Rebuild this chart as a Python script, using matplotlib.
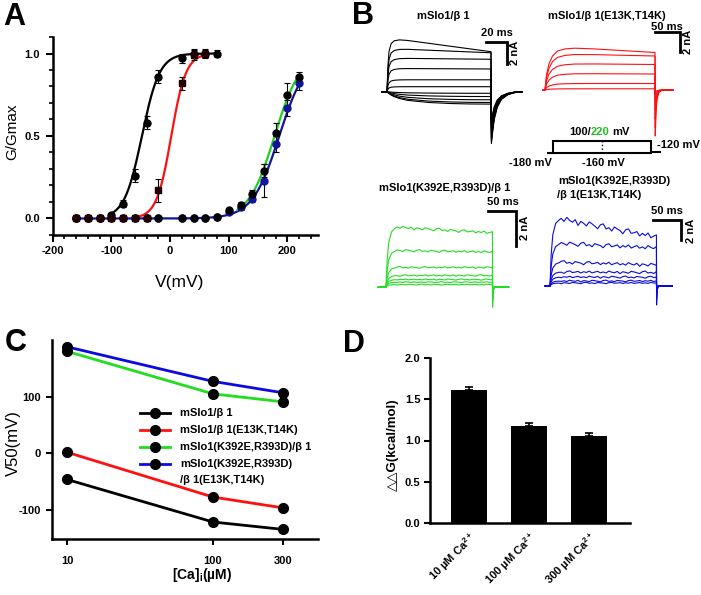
import numpy as np
import matplotlib.pyplot as plt
from matplotlib.ticker import MultipleLocator, FixedLocator, NullLocator

plt.rcParams['font.family'] = ['Liberation Sans', 'DejaVu Sans']
plt.rcParams['font.weight'] = 'bold'
plt.rcParams['axes.unicode_minus'] = False
plt.rcParams['mathtext.fontset'] = 'custom'
plt.rcParams['mathtext.rm'] = 'Liberation Sans'
plt.rcParams['mathtext.bf'] = 'Liberation Sans:bold'

RED = '#ff1010'
GREEN = '#22dd22'
BLUE = '#0a0ae0'
NAVY = '#14149a'

# ---------------- A: G-V curves ----------------
V_WT = [-160, -140, -120, -100, -80, -60, -40, -20, 20, 40, 60, 80]
G_WT = [0.0, 0.0, 0.0, 0.02, 0.09, 0.26, 0.58, 0.86, 0.97, 1.0, 1.0, 1.0]
E_WT = [0, 0, 0, 0.01, 0.02, 0.04, 0.04, 0.04, 0.03, 0.03, 0.03, 0.02]
V_B1M = [-160, -140, -120, -100, -80, -60, -40, -20, 20, 40, 60]
G_B1M = [0.0, 0.0, 0.0, 0.0, 0.0, 0.0, 0.005, 0.17, 0.82, 0.99, 1.0]
E_B1M = [0, 0, 0, 0, 0, 0, 0.005, 0.07, 0.04, 0.03, 0.02]
V_MUT = [-160, -140, -120, -100, -80, -60, -40, -20, 20, 40, 60, 80,
         100, 120, 140, 160, 180, 200, 220]
G_SLOM = [0, 0, 0, 0, 0, 0, 0, 0, 0, 0, 0, 0.01,
          0.05, 0.08, 0.15, 0.29, 0.52, 0.75, 0.86]
E_SLOM = [0, 0, 0, 0, 0, 0, 0, 0, 0, 0, 0, 0.01,
          0.01, 0.02, 0.02, 0.04, 0.06, 0.07, 0.03]
G_DM = [0, 0, 0, 0, 0, 0, 0, 0, 0, 0, 0, 0.01,
        0.04, 0.07, 0.12, 0.23, 0.45, 0.67, 0.82]
E_DM = [0, 0, 0, 0, 0, 0, 0, 0, 0, 0, 0, 0.01,
        0.01, 0.02, 0.02, 0.10, 0.05, 0.05, 0.04]

# Boltzmann fits: V50 (mV), slope (mV), drawn range
FIT_V50 = [-48, 2, 186, 178]
FIT_K = [15, 12.5, 23, 22]
FIT_RANGE = [(-100, 80), (-55, 60), (-160, 220), (115, 220)]
FIT_COLORS = ['black', RED, NAVY, '#20d020']

# ---------------- B: current traces ----------------
WIGGLE = [0.2, -0.5, 0.8, 0.1, -0.3, 0.6, -0.9, 0.4, 0.0, -0.6, 0.7, 0.3,
          -0.2, -0.8, 0.5, 0.9, -0.4, 0.1, -0.7, 0.6, 0.2, -0.1, -0.9, 0.4,
          0.8, -0.3, 0.0, 0.5, -0.6, 0.3, -0.2, 0.7, -0.5, 0.1, 0.6, -0.4]

# mSlo1/b1 (black), step 100 ms
BK_T = [0, 1, 2, 4, 7, 12, 20, 40, 60, 80, 100]
BK_FAST = [0, 0.5, 0.75, 0.9, 0.96, 0.99, 1, 1, 1, 1, 1]
BK_SLOW = [0, 0.08, 0.15, 0.27, 0.4, 0.55, 0.7, 0.87, 0.95, 0.99, 1]
BK_START = [5.0, 4.0, 3.1, 2.15, 1.1, 0.46]
BK_END = [3.7, 3.6, 3.0, 2.1, 1.1, 0.46]
BK_NEG = [-0.15, -0.45, -0.75, -1.0, -1.15]
BK_TAIL_POS = [-4.8, -4.6, -4.4, -4.2, -3.9, -3.6]
BK_TAIL_NEG = [-3.4, -3.2, -3.0, -2.8, -2.6]
BK_TAIL_T = [0.4, 1.5, 3, 6, 10, 16, 22, 30]
BK_TAIL_F = [1, 0.8, 0.55, 0.3, 0.15, 0.06, 0.02, 0]

# mSlo1/b1(E13K,T14K) (red), step 220 ms
RD_T = [0, 3, 8, 15, 25, 40, 60, 100, 150, 220]
RD_F = [0, 0.35, 0.6, 0.78, 0.9, 0.96, 0.99, 1, 1, 1]
RD_START = [4.4, 3.65, 2.65, 1.65, 0.65, 0.12]
RD_END = [3.75, 3.4, 2.55, 1.6, 0.65, 0.12]
RD_TAIL = [-4.6, -3.8, -2.9, -2.0, -1.0, -0.3]
RD_TAIL_T = [0.5, 2, 4, 8, 14, 36]
RD_TAIL_F = [1, 0.5, 0.2, 0.05, 0, 0]

# noisy families, step 190 ms
NZ_T = [0, 2, 5, 10, 16]
NZ_F = [0, 0.45, 0.75, 0.92, 0.98]
NZ_PLATEAU = list(range(20, 191, 5))
NZ_TAIL_T = [0.3, 1.5, 4, 28]
NZ_TAIL_F = [1, 0.2, 0, 0]
GR_START = [3.45, 2.1, 1.12, 0.66, 0.43, 0.28, 0.14]
GR_END = [3.1, 2.0, 1.12, 0.66, 0.43, 0.28, 0.14]
GR_NOISE = [0.1, 0.08, 0.06, 0.05, 0.04, 0.03, 0.03]
GR_TAIL = [-1.15, -0.8, -0.5, -0.3, -0.2, -0.1, -0.05]
BL_START = [6.9, 4.3, 2.4, 1.4, 0.9, 0.5, 0.3]
BL_END = [4.9, 3.8, 2.1, 1.35, 0.88, 0.5, 0.3]
BL_NOISE = [0.35, 0.25, 0.2, 0.15, 0.12, 0.1, 0.08]
BL_TAIL = [-1.9, -1.3, -0.8, -0.5, -0.3, -0.2, -0.1]

# ---------------- C: V50 vs Ca ----------------
CA = [10, 100, 300]
V50_WT = [-46, -121, -134]
V50_B1M = [2, -77, -96]
V50_SLOM = [180, 105, 91]
V50_DM = [188, 127, 107]
V50_ERR = [3, 3, 3]
C_NAMES = ['mSlo1/β 1', 'mSlo1/β 1(E13K,T14K)', 'mSlo1(K392E,R393D)/β 1',
           'mSlo1(K392E,R393D)\n/β 1(E13K,T14K)']
C_COLORS = ['black', RED, GREEN, BLUE]

# ---------------- D: ddG ----------------
D_LABELS = ['10 µM Ca$^{\\mathbf{2+}}$', '100 µM Ca$^{\\mathbf{2+}}$',
            '300 µM Ca$^{\\mathbf{2+}}$']
DDG = [1.61, 1.18, 1.06]
DDG_ERR = [0.035, 0.03, 0.03]

W, H = 701, 595
fig = plt.figure(figsize=(W / 100, H / 100), dpi=100)


def px_axes(x0, y0, x1, y1):
    return fig.add_axes([x0 / W, 1 - y1 / H, (x1 - x0) / W, (y1 - y0) / H])


def ftext(x, y, s, **kw):
    kw.setdefault('ha', 'center')
    kw.setdefault('va', 'center')
    return fig.text(x / W, 1 - y / H, s, **kw)


def style(ax, length=5):
    for s in ['top', 'right']:
        ax.spines[s].set_visible(False)
    for s in ['left', 'bottom']:
        ax.spines[s].set_linewidth(1.8)
    ax.tick_params(which='major', width=1.5, length=length, labelsize=8)
    ax.tick_params(which='minor', width=1.2, length=3)


# ---- A
axA = px_axes(52.7, 37, 318, 235)
style(axA)
axA.set_xlim(-200, 252)
axA.set_ylim(-0.1, 1.1)
axA.xaxis.set_major_locator(MultipleLocator(100))
axA.xaxis.set_minor_locator(MultipleLocator(20))
axA.yaxis.set_major_locator(FixedLocator([0, 0.5, 1.0]))
axA.yaxis.set_minor_locator(MultipleLocator(0.1))
axA.set_yticklabels(['0.0', '0.5', '1.0'])
axA.tick_params(axis='y', pad=4)
axA.tick_params(axis='x', pad=3)
for v50, k, (lo, hi), col in zip(FIT_V50, FIT_K, FIT_RANGE, FIT_COLORS):
    v = np.linspace(lo, hi, 200)
    axA.plot(v, 1 / (1 + np.exp(-(v - v50) / k)), color=col, lw=1.6, zorder=2)
for V, G, E, mk, col in [(V_MUT, G_DM, E_DM, 'o', NAVY),
                         (V_MUT, G_SLOM, E_SLOM, 'o', 'black'),
                         (V_WT, G_WT, E_WT, 'o', 'black'),
                         (V_B1M, G_B1M, E_B1M, 's', '#200000')]:
    axA.errorbar(V, G, yerr=E, fmt='none', ecolor='black', elinewidth=0.8,
                 capsize=2, capthick=0.8, zorder=3)
    axA.plot(V, G, mk, color=col, ms=5, zorder=4)
ftext(12, 132, 'G/Gmax', rotation=90, fontsize=11, fontweight='normal')
ftext(180, 283, 'V(mV)', fontsize=12.5, fontweight='normal')


# ---- B
def family(ax, kt, kf, starts, ends, tails, tail_t, tail_f, step, pre, post,
           color, noise=None, plateau=None):
    for j in range(len(starts)):
        a0, a1 = starts[j], ends[j]
        t = list(kt)
        y = [(a0 + (a1 - a0) * tk / step) * fk for tk, fk in zip(kt, kf)]
        if plateau is not None:
            for k, tk in enumerate(plateau):
                amp = a0 + (a1 - a0) * tk / step
                t.append(tk)
                y.append(amp + noise[j] * WIGGLE[(k + 7 * j) % len(WIGGLE)])
        t = [-pre] + t + [step + d for d in tail_t] + [step + post]
        y = [0] + y + [tails[j] * f for f in tail_f] + [0]
        ax.plot(t, y, color=color, lw=0.8)


def scalebar(ax, t0, t1, y0, y1, tx, ty, nx, ny):
    ax.plot([t0, t1, t1], [y0, y0, y1], color='black', lw=2,
            solid_joinstyle='miter', clip_on=False)
    ax.text(tx, ty, '%d ms' % (t1 - t0), ha='center', va='center', fontsize=8)
    ax.text(nx, ny, '2 nA', ha='left', va='center', fontsize=8, rotation=90)


axBk = px_axes(375, 30, 525, 150)
axBk.axis('off')
axBk.set_xlim(-11.5, 132.7)
axBk.set_ylim(-5.4, 5.71)
family(axBk, BK_T, BK_SLOW, BK_NEG, BK_NEG, BK_TAIL_NEG, BK_TAIL_T, BK_TAIL_F,
       100, 5, 30, 'black')
family(axBk, BK_T, BK_FAST, BK_START, BK_END, BK_TAIL_POS, BK_TAIL_T,
       BK_TAIL_F, 100, 5, 30, 'black')
scalebar(axBk, 95, 115, 4.6, 2.6, 105.8, 5.43, 118.5, 3.6)

axBr = px_axes(535, 25, 700, 140)
axBr.axis('off')
axBr.set_xlim(-20, 310)
axBr.set_ylim(-5.0, 6.5)
family(axBr, RD_T, RD_F, RD_START, RD_END, RD_TAIL, RD_TAIL_T, RD_TAIL_F,
       220, 4, 36, RED)
scalebar(axBr, 220, 270, 5.8, 3.8, 244, 6.3, 276, 4.8)

axBg = px_axes(370, 195, 535, 310)
axBg.axis('off')
axBg.set_xlim(-28.6, 266)
axBg.set_ylim(-1.31, 5.26)
family(axBg, NZ_T, NZ_F, GR_START, GR_END, GR_TAIL, NZ_TAIL_T, NZ_TAIL_F,
       190, 14, 29, GREEN, noise=GR_NOISE, plateau=NZ_PLATEAU)
scalebar(axBg, 182, 232, 4.34, 2.34, 209, 4.86, 240, 3.37)

axBb = px_axes(540, 200, 701, 310)
axBb.axis('off')
axBb.set_xlim(-17.9, 269.6)
axBb.set_ylim(-2.4, 8.6)
family(axBb, NZ_T, NZ_F, BL_START, BL_END, BL_TAIL, NZ_TAIL_T, NZ_TAIL_F,
       190, 9, 27, BLUE, noise=BL_NOISE, plateau=NZ_PLATEAU)
scalebar(axBb, 184, 234, 6.6, 4.6, 209, 7.5, 242, 5.5)

# voltage protocol (schematic)
PROTO_T = [-5, 0, 0, 100, 100, 109]
PROTO_LEVEL = [0, 0, 1, 1, 0.05, 0.05]
axP = px_axes(540, 130, 670, 165)
axP.axis('off')
axP.set_xlim(-13.3, 119.4)
axP.set_ylim(-1, 1.917)
axP.plot(PROTO_T, PROTO_LEVEL, color='black', lw=1.5, solid_joinstyle='miter')
axP.plot([0, 100], [0, 0], color='black', lw=1.5)
axP.plot([50, 50], [0, 1], color='black', lw=1, ls=':')
axP.text(38.8, 1.75, '100/', ha='right', va='center', fontsize=8)
axP.text(38.8, 1.75, '220', ha='left', va='center', fontsize=8, color='#20c020')
axP.text(60.5, 1.75, 'mV', ha='left', va='center', fontsize=8)
axP.text(106, 0.67, '-120 mV', ha='left', va='center', fontsize=8)
axP.text(51, -0.83, '-160 mV', ha='center', va='center', fontsize=8)
axP.text(-23.5, -0.83, '-180 mV', ha='center', va='center', fontsize=8)

ftext(443, 16, 'mSlo1/β 1', fontsize=8)
ftext(607, 16, 'mSlo1/β 1(E13K,T14K)', fontsize=8)
ftext(445, 188, 'mSlo1(K392E,R393D)/β 1', fontsize=8)
ftext(558, 181, 'mSlo1(K392E,R393D)', fontsize=8, ha='left')
ftext(557, 195, '/β 1(E13K,T14K)', fontsize=8, ha='left')

# ---- C
axC = px_axes(52.3, 340, 318, 539)
style(axC, length=4)
axC.set_xscale('log')
axC.set_xlim(7.93, 524)
axC.set_ylim(-151, 200)
axC.xaxis.set_major_locator(FixedLocator(CA))
axC.xaxis.set_minor_locator(NullLocator())
axC.set_xticklabels([str(c) for c in CA])
axC.yaxis.set_major_locator(FixedLocator([-100, 0, 100]))
axC.tick_params(axis='x', pad=8)
axC.tick_params(axis='y', pad=4)
for vals, col in zip([V50_WT, V50_B1M, V50_SLOM, V50_DM], C_COLORS):
    axC.errorbar(CA, vals, yerr=V50_ERR, fmt='none', ecolor='black',
                 elinewidth=0.8, capsize=2, zorder=2)
    axC.plot(CA, vals, '-', color=col, lw=2, zorder=2)
    axC.plot(CA, vals, 'o', color='black', ms=7, zorder=3)

# legend drawn by hand so the two-line entry keeps its handle on line one
leg_y = [0.633, 0.548, 0.462, 0.377]
line_dy = 0.082
for name, col, fy in zip(C_NAMES, C_COLORS, leg_y):
    axC.plot([0.330, 0.443], [fy, fy], color=col, lw=2,
             transform=axC.transAxes, clip_on=False)
    axC.plot([0.386], [fy], 'o', color='black', ms=7,
             transform=axC.transAxes, clip_on=False)
    for i, part in enumerate(name.split('\n')):
        axC.text(0.481, fy - i * line_dy, part, transform=axC.transAxes,
                 ha='left', va='center', fontsize=8)
ftext(13, 443, 'V50(mV)', rotation=90, fontsize=12, fontweight='normal')
ftext(202, 575, '[Ca]$_\\mathbf{i}$(µM)', fontsize=10)

# ---- D
axD = px_axes(430, 358, 630, 523)
style(axD, length=4)
axD.set_xlim(-0.65, 2.68)
axD.set_ylim(0, 2.0)
x = np.arange(len(DDG))
axD.bar(x, DDG, width=0.6, color='black', zorder=2)
axD.errorbar(x, DDG, yerr=[[0] * len(DDG), DDG_ERR], fmt='none',
             ecolor='black', elinewidth=1.2, capsize=3, capthick=1.2)
axD.set_yticks([0, 0.5, 1.0, 1.5, 2.0])
axD.set_yticklabels(['0.0', '0.5', '1.0', '1.5', '2.0'])
axD.set_xticks(x)
axD.set_xticklabels(D_LABELS, rotation=45, ha='right', va='top',
                    rotation_mode='anchor')
axD.tick_params(axis='x', length=0, pad=5)
axD.tick_params(axis='y', pad=3)
ftext(393, 445, '△△G(kcal/mol)', rotation=90, fontsize=9.5)

# panel letters
for lab, lx, ly in [('A', 14, 17), ('B', 363, 16), ('C', 16, 343), ('D', 354, 344)]:
    ftext(lx, ly, lab, fontsize=22)

fig.savefig('out.png', dpi=100)
